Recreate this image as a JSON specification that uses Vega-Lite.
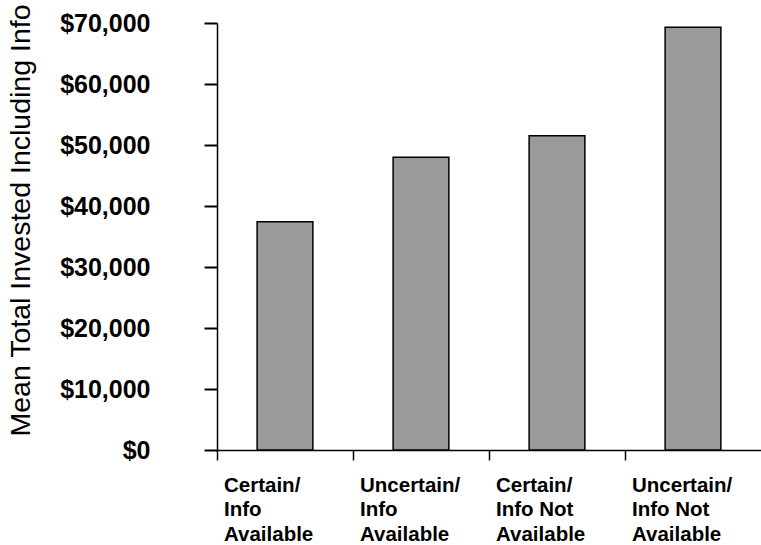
{
  "$schema": "https://vega.github.io/schema/vega-lite/v6.json",
  "autosize": "none",
  "width": 544,
  "height": 427,
  "padding": {"left": 217, "top": 23, "right": 0, "bottom": 95},
  "background": "white",
  "config": {"view": {"stroke": null}},
  "data": {"values": [
    {"group": "Certain/|Info|Available", "mean": 37400},
    {"group": "Uncertain/|Info|Available", "mean": 48000},
    {"group": "Certain/|Info Not|Available", "mean": 51500},
    {"group": "Uncertain/|Info Not|Available", "mean": 69300}
  ]},
  "mark": {"type": "bar", "width": {"band": 0.41}, "fill": "#9a9a9a", "stroke": "black", "strokeWidth": 1.5},
  "encoding": {
    "x": {
      "field": "group", "type": "nominal", "sort": null,
      "scale": {"paddingInner": 0, "paddingOuter": 0},
      "axis": {
        "title": null,
        "bandPosition": 0,
        "labelAngle": 0,
        "labelAlign": "left",
        "labelBaseline": "top",
        "labelOffset": -61,
        "labelPadding": 15,
        "labelExpr": "split(datum.label, '|')",
        "labelFont": "Liberation Sans",
        "labelFontWeight": "bold",
        "labelFontSize": 20.5,
        "labelLineHeight": 24.5,
        "labelColor": "black",
        "labelOverlap": false,
        "labelBound": false,
        "labelLimit": 300,
        "tickSize": 10,
        "tickColor": "black",
        "tickWidth": 1.5,
        "domainColor": "black",
        "domainWidth": 1.5,
        "grid": false
      }
    },
    "y": {
      "field": "mean", "type": "quantitative",
      "scale": {"domain": [0, 70000], "nice": false},
      "axis": {
        "title": "Mean Total Invested Including Info",
        "titleFont": "Liberation Sans",
        "titleFontWeight": "normal",
        "titleFontSize": 28.5,
        "titleColor": "black",
        "titleAngle": -90,
        "titleAlign": "center",
        "titleBaseline": "alphabetic",
        "titleX": -188,
        "titleY": 197,
        "values": [0, 10000, 20000, 30000, 40000, 50000, 60000, 70000],
        "format": "$,.0f",
        "labelFont": "Liberation Sans",
        "labelFontWeight": "bold",
        "labelFontSize": 25,
        "labelColor": "black",
        "labelPadding": 54,
        "labelBound": false,
        "labelOverlap": false,
        "tickSize": 13,
        "tickColor": "black",
        "tickWidth": 2,
        "domainColor": "black",
        "domainWidth": 1.5,
        "grid": false
      }
    }
  }
}
